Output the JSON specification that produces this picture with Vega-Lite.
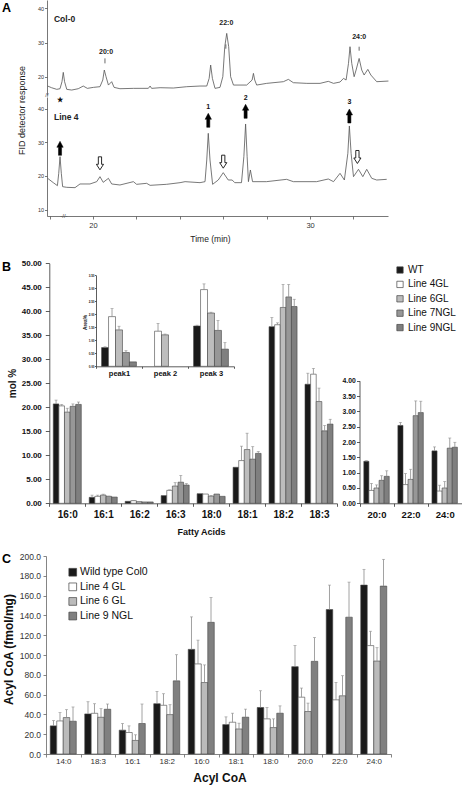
{
 "$schema": "https://vega.github.io/schema/vega-lite/v6.json",
 "width": 462, "height": 792, "autosize": "none", "padding": 0,
 "config": {"font": "Liberation Sans", "view": {"stroke": null}, "axis": {"grid": false, "labelOverlap": false, "labelFlush": false, "domainColor": "#333", "tickColor": "#333", "labelColor": "#111", "titleColor": "#111", "domainWidth": 0.8, "tickWidth": 0.8}},
 "datasets": {
  "traceTop": [
   {"t":17.91,"v":17.27},{"t":18.09,"v":16.78},{"t":18.33,"v":16.3},{"t":18.48,"v":16.49},{"t":18.57,"v":18.54},{"t":18.63,"v":21.27},{"t":18.69,"v":18.54},{"t":18.79,"v":16.3},{"t":19.02,"v":16.1},{"t":19.32,"v":16.49},{"t":19.55,"v":17.27},{"t":19.74,"v":16.59},{"t":20.02,"v":16.88},{"t":20.32,"v":17.08},{"t":20.45,"v":19.03},{"t":20.52,"v":21.95},{"t":20.6,"v":20.0},{"t":20.71,"v":17.56},{"t":20.86,"v":18.54},{"t":20.97,"v":16.88},{"t":21.24,"v":16.49},{"t":21.86,"v":16.59},{"t":22.55,"v":16.6},{"t":22.63,"v":17.27},{"t":22.7,"v":16.59},{"t":23.09,"v":16.78},{"t":23.7,"v":16.69},{"t":24.32,"v":17.08},{"t":24.93,"v":17.27},{"t":25.24,"v":17.27},{"t":25.35,"v":19.51},{"t":25.42,"v":23.41},{"t":25.5,"v":19.51},{"t":25.62,"v":16.59},{"t":25.85,"v":16.88},{"t":25.98,"v":20.0},{"t":26.07,"v":28.77},{"t":26.16,"v":32.67},{"t":26.25,"v":28.77},{"t":26.34,"v":20.0},{"t":26.47,"v":17.56},{"t":27.08,"v":17.56},{"t":27.33,"v":19.03},{"t":27.39,"v":20.97},{"t":27.45,"v":19.03},{"t":27.54,"v":17.56},{"t":28.0,"v":18.05},{"t":28.77,"v":18.54},{"t":29.0,"v":19.22},{"t":29.23,"v":18.25},{"t":29.85,"v":18.05},{"t":30.46,"v":18.05},{"t":30.84,"v":18.64},{"t":31.08,"v":18.05},{"t":31.38,"v":18.44},{"t":31.54,"v":19.51},{"t":31.66,"v":19.03},{"t":31.77,"v":23.9},{"t":31.84,"v":28.77},{"t":31.92,"v":23.9},{"t":32.03,"v":20.0},{"t":32.12,"v":21.95},{"t":32.26,"v":25.34},{"t":32.38,"v":21.95},{"t":32.49,"v":20.49},{"t":32.66,"v":22.14},{"t":32.8,"v":20.49},{"t":33.07,"v":18.54},{"t":33.61,"v":18.73}
  ],
  "traceBot": [
   {"t":17.91,"v":19.31},{"t":18.17,"v":18.02},{"t":18.36,"v":17.13},{"t":18.42,"v":20.79},{"t":18.48,"v":25.74},{"t":18.54,"v":20.79},{"t":18.6,"v":16.83},{"t":18.79,"v":16.64},{"t":19.17,"v":16.54},{"t":19.4,"v":17.63},{"t":19.86,"v":17.63},{"t":20.17,"v":18.32},{"t":20.32,"v":19.8},{"t":20.47,"v":18.12},{"t":20.71,"v":19.31},{"t":20.86,"v":17.63},{"t":21.24,"v":17.33},{"t":21.86,"v":18.32},{"t":22.01,"v":17.53},{"t":22.47,"v":17.82},{"t":22.63,"v":17.23},{"t":23.39,"v":17.53},{"t":24.01,"v":18.02},{"t":24.24,"v":18.32},{"t":24.93,"v":18.02},{"t":25.16,"v":18.32},{"t":25.24,"v":24.75},{"t":25.31,"v":32.66},{"t":25.39,"v":24.75},{"t":25.51,"v":17.53},{"t":25.77,"v":18.81},{"t":26.0,"v":20.99},{"t":26.23,"v":18.81},{"t":26.41,"v":18.81},{"t":26.53,"v":18.02},{"t":26.84,"v":18.02},{"t":26.95,"v":25.74},{"t":27.03,"v":35.43},{"t":27.1,"v":25.74},{"t":27.16,"v":18.32},{"t":27.25,"v":21.78},{"t":27.35,"v":18.32},{"t":27.99,"v":18.32},{"t":28.92,"v":19.01},{"t":29.23,"v":18.32},{"t":30.3,"v":18.32},{"t":30.84,"v":19.11},{"t":31.08,"v":18.32},{"t":31.38,"v":20.79},{"t":31.58,"v":18.81},{"t":31.74,"v":26.73},{"t":31.81,"v":34.84},{"t":31.89,"v":26.73},{"t":32.0,"v":19.8},{"t":32.23,"v":21.98},{"t":32.43,"v":19.8},{"t":32.61,"v":21.98},{"t":32.84,"v":19.31},{"t":33.07,"v":18.81},{"t":33.53,"v":19.01}
  ],
  "annTopName": [{"t":18.2,"v":36.86,"label":"Col-0"}],
  "annTopPeaks": [{"t":20.6,"v":27.31,"label":"20:0"},{"t":26.14,"v":35.79,"label":"22:0"},{"t":32.26,"v":31.5,"label":"24:0"}],
  "tickTop": [{"t":20.55,"v":25.36,"v2":23.9},{"t":26.12,"v":29.45,"v2":28.19},{"t":32.26,"v":28.77,"v2":27.6}],
  "breakTop": [{"t":17.88,"v":14.65,"label":"//"}],
  "annBotName": [{"t":18.2,"v":37.41,"label":"Line 4"}],
  "annBotNums": [{"t":25.31,"v":40.57,"label":"1"},{"t":27.03,"v":43.0,"label":"2"},{"t":31.81,"v":41.86,"label":"3"},{"t":18.48,"v":42.5,"label":"★"}],
  "breakBot": [{"t":18.66,"v":8.13,"label":"-//-"}],
  "arrowsUp": [{"t":18.48,"v":28.21},{"t":25.31,"v":36.52},{"t":27.03,"v":39.19},{"t":31.81,"v":37.8}],
  "arrowsDown": [{"t":20.32,"v":23.76},{"t":26.0,"v":24.25},{"t":32.18,"v":25.64}],
  "bMain": [
   {"fa":"16:0","series":"WT","value":20.7,"hi":21.5},{"fa":"16:0","series":"Line 4GL","value":20.3,"hi":20.6},{"fa":"16:0","series":"Line 6GL","value":19.0,"hi":19.8},{"fa":"16:0","series":"Line 7NGL","value":20.2,"hi":20.7},{"fa":"16:0","series":"Line 9NGL","value":20.6,"hi":21.1},
   {"fa":"16:1","series":"WT","value":1.24,"hi":1.7},{"fa":"16:1","series":"Line 4GL","value":1.45,"hi":1.7},{"fa":"16:1","series":"Line 6GL","value":1.72,"hi":1.9},{"fa":"16:1","series":"Line 7NGL","value":1.45,"hi":1.5},{"fa":"16:1","series":"Line 9NGL","value":1.3,"hi":1.3},
   {"fa":"16:2","series":"WT","value":0.41,"hi":0.41},{"fa":"16:2","series":"Line 4GL","value":0.55,"hi":0.6},{"fa":"16:2","series":"Line 6GL","value":0.35,"hi":0.35},{"fa":"16:2","series":"Line 7NGL","value":0.28,"hi":0.28},{"fa":"16:2","series":"Line 9NGL","value":0.28,"hi":0.28},
   {"fa":"16:3","series":"WT","value":1.6,"hi":1.6},{"fa":"16:3","series":"Line 4GL","value":2.7,"hi":2.8},{"fa":"16:3","series":"Line 6GL","value":3.6,"hi":4.3},{"fa":"16:3","series":"Line 7NGL","value":4.4,"hi":5.8},{"fa":"16:3","series":"Line 9NGL","value":3.8,"hi":4.1},
   {"fa":"18:0","series":"WT","value":2.0,"hi":2.07},{"fa":"18:0","series":"Line 4GL","value":1.93,"hi":1.93},{"fa":"18:0","series":"Line 6GL","value":1.5,"hi":1.65},{"fa":"18:0","series":"Line 7NGL","value":1.93,"hi":1.93},{"fa":"18:0","series":"Line 9NGL","value":1.45,"hi":1.45},
   {"fa":"18:1","series":"WT","value":7.5,"hi":7.5},{"fa":"18:1","series":"Line 4GL","value":8.9,"hi":11.9},{"fa":"18:1","series":"Line 6GL","value":11.2,"hi":14.6},{"fa":"18:1","series":"Line 7NGL","value":9.2,"hi":11.8},{"fa":"18:1","series":"Line 9NGL","value":10.4,"hi":10.8},
   {"fa":"18:2","series":"WT","value":36.8,"hi":38.7},{"fa":"18:2","series":"Line 4GL","value":37.2,"hi":37.6},{"fa":"18:2","series":"Line 6GL","value":40.8,"hi":45.6},{"fa":"18:2","series":"Line 7NGL","value":43.0,"hi":45.6},{"fa":"18:2","series":"Line 9NGL","value":41.0,"hi":42.5},
   {"fa":"18:3","series":"WT","value":24.8,"hi":27.1},{"fa":"18:3","series":"Line 4GL","value":26.9,"hi":28.1},{"fa":"18:3","series":"Line 6GL","value":21.2,"hi":24.0},{"fa":"18:3","series":"Line 7NGL","value":15.1,"hi":16.2},{"fa":"18:3","series":"Line 9NGL","value":16.5,"hi":17.5}
  ],
  "bInset": [
   {"peak":"peak1","series":"WT","value":0.72,"hi":0.75},{"peak":"peak1","series":"Line 4GL","value":1.91,"hi":2.22},{"peak":"peak1","series":"Line 6GL","value":1.4,"hi":1.54},{"peak":"peak1","series":"Line 7NGL","value":0.53,"hi":0.6},{"peak":"peak1","series":"Line 9NGL","value":0.17,"hi":0.17},
   {"peak":"peak 2","series":"Line 4GL","value":1.35,"hi":1.65},{"peak":"peak 2","series":"Line 6GL","value":1.21,"hi":1.24},
   {"peak":"peak 3","series":"WT","value":1.55,"hi":1.58},{"peak":"peak 3","series":"Line 4GL","value":2.95,"hi":3.17},{"peak":"peak 3","series":"Line 6GL","value":2.05,"hi":2.08},{"peak":"peak 3","series":"Line 7NGL","value":1.38,"hi":1.76},{"peak":"peak 3","series":"Line 9NGL","value":0.66,"hi":0.91}
  ],
  "bRight": [
   {"fa":"20:0","series":"WT","value":1.37,"hi":1.39},{"fa":"20:0","series":"Line 4GL","value":0.42,"hi":0.65},{"fa":"20:0","series":"Line 6GL","value":0.5,"hi":0.6},{"fa":"20:0","series":"Line 7NGL","value":0.75,"hi":0.9},{"fa":"20:0","series":"Line 9NGL","value":0.88,"hi":1.06},
   {"fa":"22:0","series":"WT","value":2.54,"hi":2.64},{"fa":"22:0","series":"Line 4GL","value":0.61,"hi":0.97},{"fa":"22:0","series":"Line 6GL","value":0.78,"hi":1.11},{"fa":"22:0","series":"Line 7NGL","value":2.86,"hi":3.34},{"fa":"22:0","series":"Line 9NGL","value":2.96,"hi":3.33},
   {"fa":"24:0","series":"WT","value":1.71,"hi":1.84},{"fa":"24:0","series":"Line 4GL","value":0.4,"hi":0.59},{"fa":"24:0","series":"Line 6GL","value":0.5,"hi":0.71},{"fa":"24:0","series":"Line 7NGL","value":1.8,"hi":2.13},{"fa":"24:0","series":"Line 9NGL","value":1.83,"hi":1.99}
  ],
  "cData": [
   {"acyl":"14:0","series":"Wild type Col0","value":28.4,"hi":33.8},{"acyl":"14:0","series":"Line 4 GL","value":33.4,"hi":41.8},{"acyl":"14:0","series":"Line 6 GL","value":36.8,"hi":44.8},{"acyl":"14:0","series":"Line 9 NGL","value":33.1,"hi":47.5},
   {"acyl":"18:3","series":"Wild type Col0","value":40.5,"hi":52.8},{"acyl":"18:3","series":"Line 4 GL","value":41.1,"hi":50.8},{"acyl":"18:3","series":"Line 6 GL","value":37.1,"hi":45.8},{"acyl":"18:3","series":"Line 9 NGL","value":45.2,"hi":50.5},
   {"acyl":"16:1","series":"Wild type Col0","value":24.1,"hi":30.8},{"acyl":"16:1","series":"Line 4 GL","value":21.7,"hi":28.4},{"acyl":"16:1","series":"Line 6 GL","value":13.7,"hi":19.4},{"acyl":"16:1","series":"Line 9 NGL","value":30.8,"hi":50.5},
   {"acyl":"18:2","series":"Wild type Col0","value":50.8,"hi":63.2},{"acyl":"18:2","series":"Line 4 GL","value":49.2,"hi":60.9},{"acyl":"18:2","series":"Line 6 GL","value":39.8,"hi":49.8},{"acyl":"18:2","series":"Line 9 NGL","value":73.9,"hi":100.3},
   {"acyl":"16:0","series":"Wild type Col0","value":105.7,"hi":138.5},{"acyl":"16:0","series":"Line 4 GL","value":91.0,"hi":115.0},{"acyl":"16:0","series":"Line 6 GL","value":72.2,"hi":90.0},{"acyl":"16:0","series":"Line 9 NGL","value":133.0,"hi":158.0},
   {"acyl":"18:1","series":"Wild type Col0","value":29.7,"hi":37.5},{"acyl":"18:1","series":"Line 4 GL","value":32.1,"hi":41.2},{"acyl":"18:1","series":"Line 6 GL","value":25.3,"hi":31.1},{"acyl":"18:1","series":"Line 9 NGL","value":37.2,"hi":45.3},
   {"acyl":"18:0","series":"Wild type Col0","value":47.0,"hi":63.9},{"acyl":"18:0","series":"Line 4 GL","value":35.5,"hi":47.0},{"acyl":"18:0","series":"Line 6 GL","value":26.7,"hi":35.5},{"acyl":"18:0","series":"Line 9 NGL","value":41.2,"hi":48.6},
   {"acyl":"20:0","series":"Wild type Col0","value":88.2,"hi":109.5},{"acyl":"20:0","series":"Line 4 GL","value":57.4,"hi":66.6},{"acyl":"20:0","series":"Line 6 GL","value":42.9,"hi":51.4},{"acyl":"20:0","series":"Line 9 NGL","value":93.6,"hi":117.6},
   {"acyl":"22:0","series":"Wild type Col0","value":145.9,"hi":170.6},{"acyl":"22:0","series":"Line 4 GL","value":54.7,"hi":72.3},{"acyl":"22:0","series":"Line 6 GL","value":58.8,"hi":79.1},{"acyl":"22:0","series":"Line 9 NGL","value":138.2,"hi":173.6},
   {"acyl":"24:0","series":"Wild type Col0","value":170.6,"hi":186.5},{"acyl":"24:0","series":"Line 4 GL","value":109.5,"hi":124.0},{"acyl":"24:0","series":"Line 6 GL","value":93.9,"hi":107.4},{"acyl":"24:0","series":"Line 9 NGL","value":169.6,"hi":196.6}
  ]
 },
 "layer": [
  {
   "layer": [
    {"data": {"name": "traceTop"}, "mark": {"type": "line", "color": "#555", "strokeWidth": 0.8},
     "encoding": {
      "x": {"field": "t", "type": "quantitative", "scale": {"domain": [17.88, 33.59], "range": [47, 388], "nice": false, "zero": false},
            "axis": {"orient": "top", "offset": 0, "domain": false, "ticks": false, "labels": false, "title": "A", "titleX": 6, "titleY": 7.5, "titleAngle": 0, "titleAlign": "center", "titleBaseline": "middle", "titleFontSize": 12.5, "titleFontWeight": "bold", "titleColor": "#000", "titlePadding": 0}},
      "y": {"field": "v", "type": "quantitative", "scale": {"domain": [14.65, 42.43], "range": [95, 0], "nice": false, "zero": false},
            "axis": {"orient": "left", "offset": -47, "values": [20, 30, 40], "tickSize": 2.5, "labelPadding": 1, "labelFontSize": 5.5, "labelColor": "#333", "title": null, "domainColor": "#555", "tickColor": "#555"}}
     }},
    {"data": {"name": "annTopName"}, "mark": {"type": "text", "align": "left", "baseline": "middle", "fontSize": 8.5, "fontWeight": "bold", "color": "#222"},
     "encoding": {"x": {"field": "t", "type": "quantitative"}, "y": {"field": "v", "type": "quantitative"}, "text": {"field": "label"}}},
    {"data": {"name": "annTopPeaks"}, "mark": {"type": "text", "align": "center", "baseline": "middle", "fontSize": 7, "fontWeight": "bold", "color": "#222"},
     "encoding": {"x": {"field": "t", "type": "quantitative"}, "y": {"field": "v", "type": "quantitative"}, "text": {"field": "label"}}},
    {"data": {"name": "tickTop"}, "mark": {"type": "rule", "color": "#444", "strokeWidth": 0.8},
     "encoding": {"x": {"field": "t", "type": "quantitative"}, "y": {"field": "v", "type": "quantitative"}, "y2": {"field": "v2"}}},
    {"data": {"name": "breakTop"}, "mark": {"type": "text", "align": "center", "baseline": "middle", "fontSize": 6, "color": "#444"},
     "encoding": {"x": {"field": "t", "type": "quantitative"}, "y": {"field": "v", "type": "quantitative"}, "text": {"field": "label"}}}
   ]
  },
  {
   "layer": [
    {"data": {"name": "traceBot"}, "mark": {"type": "line", "color": "#555", "strokeWidth": 0.8},
     "encoding": {
      "x": {"field": "t", "type": "quantitative", "scale": {"domain": [17.88, 33.59], "range": [47, 388], "nice": false, "zero": false},
            "axis": {"orient": "bottom", "offset": -576, "values": [18,19,20,21,22,23,24,25,26,27,28,29,30,31,32,33], "labelExpr": "(datum.value == 20 || datum.value == 30) ? datum.label : ''", "tickSize": 3, "labelPadding": 2, "labelFontSize": 7.5, "labelColor": "#333", "domainColor": "#555", "tickColor": "#555", "title": "Time (min)", "titleX": 210, "titleY": 22, "titleAlign": "center", "titleBaseline": "middle", "titleFontSize": 8.5, "titleFontWeight": "normal", "titleColor": "#222"}},
      "y": {"field": "v", "type": "quantitative", "scale": {"domain": [8.13, 43.44], "range": [216, 97], "nice": false, "zero": false},
            "axis": {"orient": "left", "offset": -47, "values": [10, 20, 30, 40], "tickSize": 2.5, "labelPadding": 1, "labelFontSize": 5.5, "labelColor": "#333", "domainColor": "#555", "tickColor": "#555", "title": "FID detector response", "titleX": -26, "titleY": 110, "titleAngle": 270, "titleAlign": "center", "titleBaseline": "middle", "titleFontSize": 9, "titleFontWeight": "normal", "titleColor": "#222"}}
     }},
    {"data": {"name": "annBotName"}, "mark": {"type": "text", "align": "left", "baseline": "middle", "fontSize": 8.5, "fontWeight": "bold", "color": "#222"},
     "encoding": {"x": {"field": "t", "type": "quantitative"}, "y": {"field": "v", "type": "quantitative"}, "text": {"field": "label"}}},
    {"data": {"name": "annBotNums"}, "mark": {"type": "text", "align": "center", "baseline": "middle", "fontSize": 7, "fontWeight": "bold", "color": "#111"},
     "encoding": {"x": {"field": "t", "type": "quantitative"}, "y": {"field": "v", "type": "quantitative"}, "text": {"field": "label"}}},
    {"data": {"name": "breakBot"}, "mark": {"type": "text", "align": "center", "baseline": "middle", "fontSize": 6, "color": "#444"},
     "encoding": {"x": {"field": "t", "type": "quantitative"}, "y": {"field": "v", "type": "quantitative"}, "text": {"field": "label"}}},
    {"data": {"name": "arrowsUp"}, "mark": {"type": "point", "shape": "M-0.22,1L-0.22,-0.15L-0.45,-0.15L0,-1L0.45,-0.15L0.22,-0.15L0.22,1Z", "size": 196, "filled": true, "fill": "#000", "stroke": "#000", "strokeWidth": 0.5, "opacity": 1},
     "encoding": {"x": {"field": "t", "type": "quantitative"}, "y": {"field": "v", "type": "quantitative"}}},
    {"data": {"name": "arrowsDown"}, "mark": {"type": "point", "shape": "M-0.25,-1L-0.25,0.15L-0.55,0.15L0,1L0.55,0.15L0.25,0.15L0.25,-1Z", "size": 169, "filled": true, "fill": "#fff", "stroke": "#111", "strokeWidth": 0.9, "opacity": 1},
     "encoding": {"x": {"field": "t", "type": "quantitative"}, "y": {"field": "v", "type": "quantitative"}}}
   ]
  },
  {
   "data": {"name": "bMain"},
   "layer": [
    {"mark": {"type": "bar", "stroke": "#444", "strokeWidth": 0.6},
     "encoding": {
      "x": {"field": "fa", "type": "nominal", "scale": {"domain": ["16:0","16:1","16:2","16:3","18:0","18:1","18:2","18:3"], "range": [49.3, 337], "paddingInner": 0, "paddingOuter": 0},
            "axis": {"orient": "bottom", "offset": -288.7, "tickBand": "extent", "tickSize": 3, "labelPadding": 3, "labelAngle": 0, "labelFontSize": 10, "labelFontWeight": "bold", "labelColor": "#111", "title": "Fatty Acids", "titleX": 201, "titleY": 27.7, "titleAlign": "center", "titleBaseline": "middle", "titleFontSize": 9, "titleFontWeight": "bold"}},
      "xOffset": {"field": "series", "type": "nominal", "scale": {"domain": ["WT","Line 4GL","Line 6GL","Line 7NGL","Line 9NGL"], "paddingInner": 0, "paddingOuter": 0.71}},
      "y": {"field": "value", "type": "quantitative", "scale": {"domain": [0, 50], "range": [503.3, 263.3], "nice": false, "zero": false},
            "axis": {"orient": "left", "offset": -49.3, "values": [0,5,10,15,20,25,30,35,40,45,50], "format": ".2f", "tickSize": 4, "labelPadding": 4, "labelFontSize": 8, "labelFontWeight": "bold", "title": "mol %", "titleX": -37.3, "titleY": 383, "titleAngle": 270, "titleAlign": "center", "titleBaseline": "middle", "titleFontSize": 10, "titleFontWeight": "bold"}},
      "color": {"field": "series", "type": "nominal", "scale": {"domain": ["WT","Line 4GL","Line 6GL","Line 7NGL","Line 9NGL"], "range": ["#1a1a1a","#ffffff","#bdbdbd","#979797","#7f7f7f"]},
                "legend": {"orient": "none", "legendX": 395, "legendY": 265, "title": null, "padding": 0, "symbolType": "square", "symbolSize": 40, "symbolStrokeColor": "#444", "symbolStrokeWidth": 0.7, "labelFontSize": 10, "labelColor": "#111", "labelOffset": 3, "rowPadding": 4.4}}
     }},
    {"mark": {"type": "rule", "color": "#8a8a8a", "strokeWidth": 0.8},
     "encoding": {"x": {"field": "fa", "type": "nominal"}, "xOffset": {"field": "series", "type": "nominal"}, "y": {"field": "value", "type": "quantitative"}, "y2": {"field": "hi"}}},
    {"transform": [{"filter": "datum.hi > datum.value"}], "mark": {"type": "tick", "orient": "horizontal", "color": "#8a8a8a", "size": 3, "thickness": 0.8},
     "encoding": {"x": {"field": "fa", "type": "nominal"}, "xOffset": {"field": "series", "type": "nominal"}, "y": {"field": "hi", "type": "quantitative"}}}
   ]
  },
  {
   "data": {"name": "bInset"},
   "layer": [
    {"mark": {"type": "bar", "stroke": "#444", "strokeWidth": 0.6},
     "encoding": {
      "x": {"field": "peak", "type": "nominal", "scale": {"domain": ["peak1","peak 2","peak 3"], "range": [96, 234], "paddingInner": 0, "paddingOuter": 0},
            "axis": {"orient": "bottom", "offset": -425.7, "tickBand": "extent", "tickSize": 2, "labelPadding": 1.5, "labelAngle": 0, "labelFontSize": 7.5, "labelFontWeight": "bold", "title": null}},
      "xOffset": {"field": "series", "type": "nominal", "scale": {"domain": ["WT","Line 4GL","Line 6GL","Line 7NGL","Line 9NGL"], "paddingInner": 0, "paddingOuter": 0.8}},
      "y": {"field": "value", "type": "quantitative", "scale": {"domain": [0, 3.5], "range": [366.3, 275.3], "nice": false, "zero": false},
            "axis": {"orient": "left", "offset": -96, "values": [0,0.5,1,1.5,2,2.5,3,3.5], "format": ".2f", "tickSize": 1.5, "labelPadding": 0.5, "labelFontSize": 3, "labelFontWeight": "bold", "title": "Area%", "titleX": -11, "titleY": 322, "titleAngle": 270, "titleAlign": "center", "titleBaseline": "middle", "titleFontSize": 4.8, "titleFontWeight": "bold"}},
      "color": {"field": "series", "type": "nominal", "scale": {"domain": ["WT","Line 4GL","Line 6GL","Line 7NGL","Line 9NGL"], "range": ["#1a1a1a","#ffffff","#bdbdbd","#979797","#7f7f7f"]}, "legend": null}
     }},
    {"mark": {"type": "rule", "color": "#8a8a8a", "strokeWidth": 0.8},
     "encoding": {"x": {"field": "peak", "type": "nominal"}, "xOffset": {"field": "series", "type": "nominal"}, "y": {"field": "value", "type": "quantitative"}, "y2": {"field": "hi"}}},
    {"transform": [{"filter": "datum.hi > datum.value"}], "mark": {"type": "tick", "orient": "horizontal", "color": "#8a8a8a", "size": 3, "thickness": 0.8},
     "encoding": {"x": {"field": "peak", "type": "nominal"}, "xOffset": {"field": "series", "type": "nominal"}, "y": {"field": "hi", "type": "quantitative"}}}
   ]
  },
  {
   "data": {"name": "bRight"},
   "layer": [
    {"mark": {"type": "bar", "stroke": "#444", "strokeWidth": 0.6},
     "encoding": {
      "x": {"field": "fa", "type": "nominal", "scale": {"domain": ["20:0","22:0","24:0"], "range": [359.5, 461.7], "paddingInner": 0, "paddingOuter": 0},
            "axis": {"orient": "bottom", "offset": -288.7, "tickBand": "extent", "tickSize": 3, "labelPadding": 3, "labelAngle": 0, "labelFontSize": 9.5, "labelFontWeight": "bold", "title": "C", "titleX": 6, "titleY": 54.7, "titleAngle": 0, "titleAlign": "center", "titleBaseline": "middle", "titleFontSize": 12.5, "titleFontWeight": "bold", "titleColor": "#000"}},
      "xOffset": {"field": "series", "type": "nominal", "scale": {"domain": ["WT","Line 4GL","Line 6GL","Line 7NGL","Line 9NGL"], "paddingInner": 0, "paddingOuter": 0.85}},
      "y": {"field": "value", "type": "quantitative", "scale": {"domain": [0, 4], "range": [503.3, 380.7], "nice": false, "zero": false},
            "axis": {"orient": "left", "offset": -359.5, "values": [0,0.5,1,1.5,2,2.5,3,3.5,4], "format": ".2f", "tickSize": 3, "labelPadding": 1.3, "labelFontSize": 6.8, "labelFontWeight": "bold", "title": "B", "titleX": -353.5, "titleY": 266, "titleAngle": 0, "titleAlign": "center", "titleBaseline": "middle", "titleFontSize": 12.5, "titleFontWeight": "bold", "titleColor": "#000"}},
      "color": {"field": "series", "type": "nominal", "scale": {"domain": ["WT","Line 4GL","Line 6GL","Line 7NGL","Line 9NGL"], "range": ["#1a1a1a","#ffffff","#bdbdbd","#979797","#7f7f7f"]}, "legend": null}
     }},
    {"mark": {"type": "rule", "color": "#8a8a8a", "strokeWidth": 0.8},
     "encoding": {"x": {"field": "fa", "type": "nominal"}, "xOffset": {"field": "series", "type": "nominal"}, "y": {"field": "value", "type": "quantitative"}, "y2": {"field": "hi"}}},
    {"transform": [{"filter": "datum.hi > datum.value"}], "mark": {"type": "tick", "orient": "horizontal", "color": "#8a8a8a", "size": 3, "thickness": 0.8},
     "encoding": {"x": {"field": "fa", "type": "nominal"}, "xOffset": {"field": "series", "type": "nominal"}, "y": {"field": "hi", "type": "quantitative"}}}
   ]
  },
  {
   "data": {"name": "cData"},
   "layer": [
    {"mark": {"type": "bar", "stroke": "#444", "strokeWidth": 0.6},
     "encoding": {
      "x": {"field": "acyl", "type": "nominal", "scale": {"domain": ["14:0","18:3","16:1","18:2","16:0","18:1","18:0","20:0","22:0","24:0"], "range": [46, 391], "paddingInner": 0, "paddingOuter": 0},
            "axis": {"orient": "bottom", "offset": -38, "tickBand": "extent", "tickSize": 3, "labelPadding": 0.5, "labelAngle": 0, "labelFontSize": 8, "labelColor": "#333", "domainColor": "#666", "tickColor": "#666", "title": "Acyl CoA", "titleX": 219.5, "titleY": 23, "titleAlign": "center", "titleBaseline": "middle", "titleFontSize": 12, "titleFontWeight": "bold"}},
      "xOffset": {"field": "series", "type": "nominal", "scale": {"domain": ["Wild type Col0","Line 4 GL","Line 6 GL","Line 9 NGL"], "paddingInner": 0, "paddingOuter": 0.65}},
      "y": {"field": "value", "type": "quantitative", "scale": {"domain": [0, 200], "range": [754, 556], "nice": false, "zero": false},
            "axis": {"orient": "left", "offset": -46, "values": [0,20,40,60,80,100,120,140,160,180,200], "format": ".1f", "tickSize": 3, "labelPadding": 2.5, "labelFontSize": 8.5, "labelColor": "#333", "domainColor": "#666", "tickColor": "#666", "title": "Acyl CoA (fmol/mg)", "titleX": -37.7, "titleY": 649, "titleAngle": 270, "titleAlign": "center", "titleBaseline": "middle", "titleFontSize": 12, "titleFontWeight": "bold"}},
      "color": {"field": "series", "type": "nominal", "scale": {"domain": ["Wild type Col0","Line 4 GL","Line 6 GL","Line 9 NGL"], "range": ["#1a1a1a","#ffffff","#bbbbbb","#808080"]},
                "legend": {"orient": "none", "legendX": 67.5, "legendY": 567, "title": null, "padding": 0, "symbolType": "square", "symbolSize": 60, "symbolStrokeColor": "#444", "symbolStrokeWidth": 0.7, "labelFontSize": 10.5, "labelColor": "#111", "labelOffset": 2, "rowPadding": 2.6}}
     }},
    {"mark": {"type": "rule", "color": "#8a8a8a", "strokeWidth": 0.8},
     "encoding": {"x": {"field": "acyl", "type": "nominal"}, "xOffset": {"field": "series", "type": "nominal"}, "y": {"field": "value", "type": "quantitative"}, "y2": {"field": "hi"}}},
    {"transform": [{"filter": "datum.hi > datum.value"}], "mark": {"type": "tick", "orient": "horizontal", "color": "#8a8a8a", "size": 3, "thickness": 0.8},
     "encoding": {"x": {"field": "acyl", "type": "nominal"}, "xOffset": {"field": "series", "type": "nominal"}, "y": {"field": "hi", "type": "quantitative"}}}
   ]
  }
 ],
 "resolve": {"scale": {"x": "independent", "y": "independent", "xOffset": "independent", "color": "independent"}, "axis": {"x": "independent", "y": "independent"}, "legend": {"color": "independent"}}
}
